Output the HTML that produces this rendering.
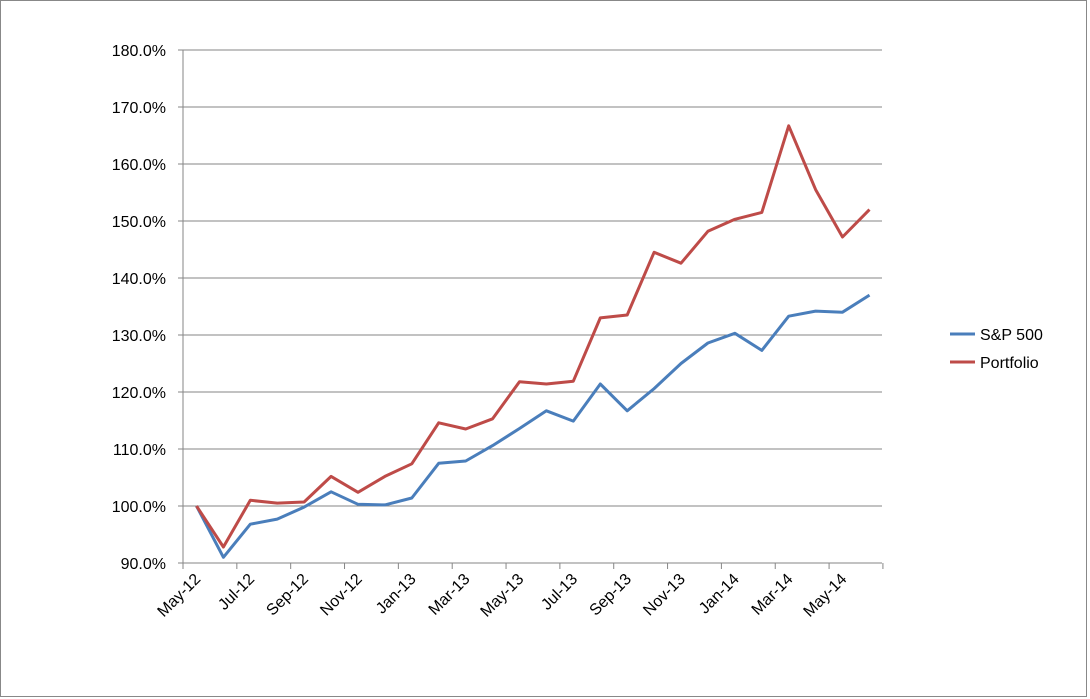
<!DOCTYPE html>
<html><head><style>body{margin:0;background:#fff}svg{display:block;font-family:"Liberation Sans",sans-serif}</style></head><body>
<svg width="1090" height="699" xmlns="http://www.w3.org/2000/svg">
<rect x="0.5" y="0.5" width="1086" height="696" fill="#fff" stroke="#888"/>
<g id="g"></g>
</svg>
<script>
const g=document.getElementById('g');
let h='';
const Y=v=>563-(v-90)*5.7;
for(let i=0;i<10;i++){const y=563-57*i;h+=`<line x1="178" y1="${y}" x2="882" y2="${y}" stroke="#868686" stroke-width="1"/>`;
h+=`<text x="166" y="${y+6}" font-size="16" text-anchor="end">${(90+10*i).toFixed(1)}%</text>`;}
h+=`<line x1="183" y1="50" x2="183" y2="563" stroke="#868686"/>`;
const X=i=>183+26.92*(i+0.5);
for(let k=0;k<=13;k++){const x=183+53.84*k;h+=`<line x1="${x}" y1="563" x2="${x}" y2="569" stroke="#868686"/>`;}
const labs=['May-12','Jul-12','Sep-12','Nov-12','Jan-13','Mar-13','May-13','Jul-13','Sep-13','Nov-13','Jan-14','Mar-14','May-14'];
labs.forEach((l,k)=>{const x=X(2*k)+5,y=580;h+=`<text x="${x}" y="${y}" font-size="16" text-anchor="end" transform="rotate(-45 ${x} ${y})">${l}</text>`;});
const sp=[100,91,96.8,97.7,99.8,102.5,100.3,100.2,101.4,107.5,107.9,110.6,113.6,116.7,114.9,121.4,116.7,120.6,125,128.6,130.3,127.3,133.3,134.2,134,137];
const pf=[100,92.8,101,100.5,100.7,105.2,102.4,105.2,107.4,114.6,113.5,115.3,121.8,121.4,121.9,133,133.5,144.5,142.6,148.2,150.3,151.5,166.7,155.5,147.2,152];
const pl=(d,c)=>`<polyline fill="none" stroke="${c}" stroke-width="3" stroke-linejoin="round" points="${d.map((v,i)=>X(i).toFixed(1)+','+Y(v).toFixed(1)).join(' ')}"/>`;
h+=pl(sp,'#4a7ebb')+pl(pf,'#be4b48');
h+=`<line x1="950" y1="334" x2="975" y2="334" stroke="#4a7ebb" stroke-width="3"/><text x="980" y="340" font-size="16">S&amp;P 500</text>`;
h+=`<line x1="950" y1="362" x2="975" y2="362" stroke="#be4b48" stroke-width="3"/><text x="980" y="368" font-size="16">Portfolio</text>`;
g.innerHTML=h;
</script>
</body></html>
